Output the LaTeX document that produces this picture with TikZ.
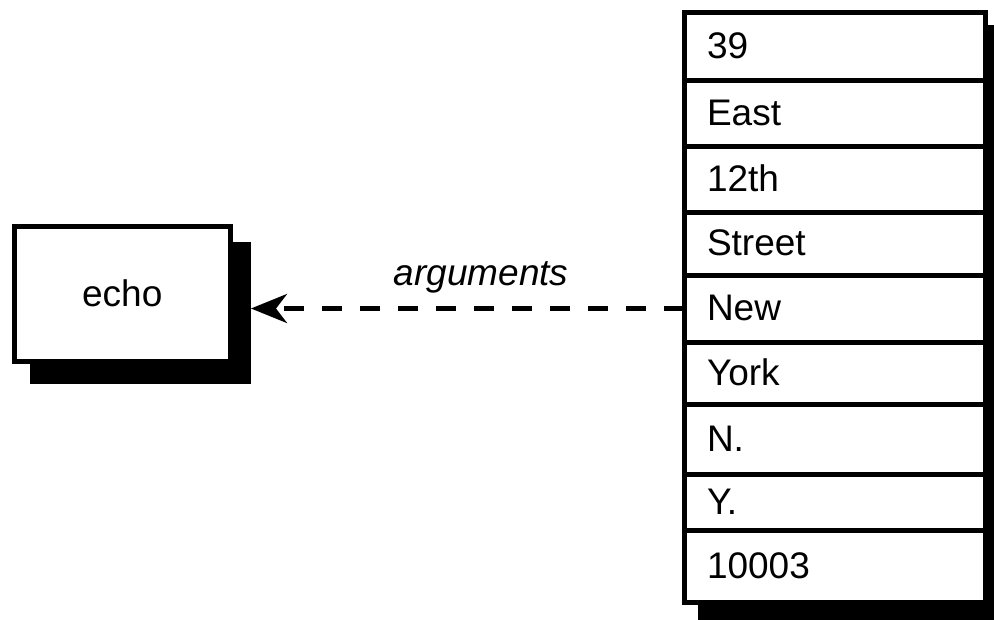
\documentclass[tikz,border=0pt]{standalone}
\usepackage{fontspec}
\setmainfont{Liberation Sans}
\usetikzlibrary{arrows.meta}
\begin{document}
\begin{tikzpicture}[x=1pt,y=-1pt,
  lbl/.style={font=\fontsize{37}{44}\selectfont},
  echobox/.style={lbl, draw=black, line width=5pt, fill=white, inner sep=0pt, outer sep=0pt,
    minimum width=215.5pt, minimum height=135pt},
  shade/.style={fill=black, inner sep=0pt, outer sep=0pt},
  rowbox/.style={lbl, draw=black, line width=5pt, fill=white, outer sep=0pt,
    minimum width=301pt, inner xsep=23pt, inner ysep=0pt, text width=255pt, align=left,
    text height=24pt, text depth=0pt, anchor=north west},
  flow/.style={line width=4.5pt, dash pattern=on 20pt off 18pt,
    -{Stealth[length=36pt, width=29pt, inset=11pt]}}
]
\useasboundingbox (0,0) rectangle (994,619);
\clip (0,0) rectangle (994,619);
% shadows
\node[shade, minimum width=221pt, minimum height=142pt] (echoshadow) at (140.5,312.5) {};
\node[shade, minimum width=306pt, minimum height=595pt] (stackshadow) at (850.5,322.5) {};
% echo box
\node[echobox] (echo) at (122.25,293.5) {echo};
% stack rows
\node[rowbox, minimum height=68pt] (r1) at (684,12) {39};
\node[rowbox, minimum height=66pt] (r2) at (r1.south west) {East};
\node[rowbox, minimum height=66pt] (r3) at (r2.south west) {12th};
\node[rowbox, minimum height=63pt] (r4) at (r3.south west) {Street};
\node[rowbox, minimum height=67pt] (r5) at (r4.south west) {New};
\node[rowbox, minimum height=62pt] (r6) at (r5.south west) {York};
\node[rowbox, minimum height=70pt] (r7) at (r6.south west) {N.};
\node[rowbox, minimum height=56pt] (r8) at (r7.south west) {Y.};
\node[rowbox, minimum height=72pt] (r9) at (r8.south west) {10003};
% arrow
\draw[flow] (r5.west) -- (echoshadow.east |- r5.west);
\node[lbl, font=\fontsize{37}{44}\selectfont\itshape, anchor=base, inner sep=0pt] (arglbl) at (481,285) {arguments};
\end{tikzpicture}
\end{document}
